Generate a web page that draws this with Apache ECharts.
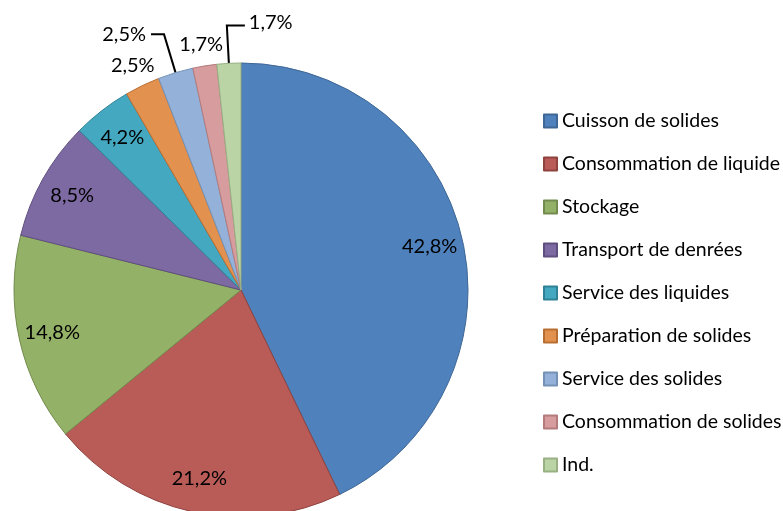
<!DOCTYPE html>
<html>
<head>
    <meta charset="utf-8">
    <script src="https://cdn.jsdelivr.net/npm/echarts@6/dist/echarts.min.js"></script>
    <style>
        html, body { margin: 0; padding: 0; background: #fff; }
    </style>
</head>
<body>
<div id="main" style="width: 783px;height:511px;"></div>

<script>
    // données
    var categories = ['Cuisson de solides', 'Consommation de liquide', 'Stockage', 'Transport de denrées',
        'Service des liquides', 'Préparation de solides', 'Service des solides', 'Consommation de solides', 'Ind.'];
    var values = [42.8, 21.2, 14.8, 8.5, 4.2, 2.5, 2.5, 1.7, 1.7];

    // couleurs (remplissage / bordure)
    var colors = ['#4F81BD', '#B95C58', '#93B167', '#7E6AA3', '#43A8C0', '#E3914F', '#94B2D9', '#D79C9D', '#BAD4A6'];
    var borders = ['#3F6795', '#8F423E', '#738B4E', '#5F4E7E', '#2F8296', '#B86E33', '#7592B6', '#B47B7C', '#98B084'];
    // où placer chaque étiquette : in = dans la part, ring = juste à l'extérieur, line = avec un trait
    var labelMode = ['in', 'in', 'in', 'in', 'in', 'ring', 'line', 'ring', 'line'];

    var font = 'Lato';
    var fontSize = 20;
    var center = [241, 290];
    var R = 227;

    function fmt(v) {
        return v.toFixed(1).replace('.', ',') + '%';
    }

    var myChart = echarts.init(document.getElementById('main'));

    var mainData = [], innerData = [], ringData = [];
    for (var i = 0; i < values.length; i++) {
        var mode = labelMode[i];
        mainData.push({
            name: categories[i],
            value: values[i],
            itemStyle: {color: colors[i], borderColor: borders[i], borderWidth: 1},
            label: {show: mode === 'line'},
            labelLine: {show: mode === 'line', length: i === 8 ? 38 : 40, length2: i === 8 ? 18 : 13}
        });
        innerData.push({name: categories[i], value: values[i], label: {show: mode === 'in'}});
        ringData.push({name: categories[i], value: values[i], label: {show: mode === 'ring'}});
    }

    var labelStyle = {
        color: '#000',
        fontFamily: font,
        fontSize: fontSize,
        formatter: function (p) { return fmt(p.value); }
    };

    var option = {
        animation: false,
        backgroundColor: '#fff',
        legend: {
            orient: 'vertical',
            left: 538,
            top: 106,
            itemWidth: 13,
            itemHeight: 13,
            itemGap: 23,
            icon: 'rect',
            selectedMode: false,
            data: categories,
            textStyle: {color: '#000', fontFamily: font, fontSize: 19.5}
        },
        series: [
            {
                name: 'main',
                type: 'pie',
                center: center,
                radius: [0, R],
                startAngle: 90,
                avoidLabelOverlap: false,
                silent: true,
                data: mainData,
                label: Object.assign({position: 'outside', distanceToLabelLine: 5}, labelStyle),
                labelLine: {lineStyle: {color: '#000', width: 2}, smooth: false},
                labelLayout: function (p) {
                    // le dernier trait part vers la droite
                    if (p.dataIndex !== 8 || !p.labelLinePoints) return {};
                    var a = p.labelLinePoints[0], b = p.labelLinePoints[1], c = p.labelLinePoints[2];
                    var end = [2 * b[0] - c[0], c[1]];
                    return {
                        x: end[0] + 4,
                        y: end[1] - 3,
                        align: 'left',
                        verticalAlign: 'middle',
                        labelLinePoints: [a, b, end]
                    };
                }
            },
            {
                name: 'inner',
                type: 'pie',
                center: center,
                radius: [154, R],
                startAngle: 90,
                silent: true,
                legendHoverLink: false,
                avoidLabelOverlap: false,
                itemStyle: {color: 'rgba(0,0,0,0)', borderWidth: 0},
                label: Object.assign({position: 'inside'}, labelStyle),
                labelLine: {show: false},
                data: innerData
            },
            {
                name: 'ring',
                type: 'pie',
                center: center,
                radius: [R, 265],
                startAngle: 90,
                silent: true,
                legendHoverLink: false,
                avoidLabelOverlap: false,
                itemStyle: {color: 'rgba(0,0,0,0)', borderWidth: 0},
                label: Object.assign({position: 'inside'}, labelStyle),
                labelLine: {show: false},
                data: ringData
            }
        ]
    };
    myChart.setOption(option);
</script>
</body>
</html>
